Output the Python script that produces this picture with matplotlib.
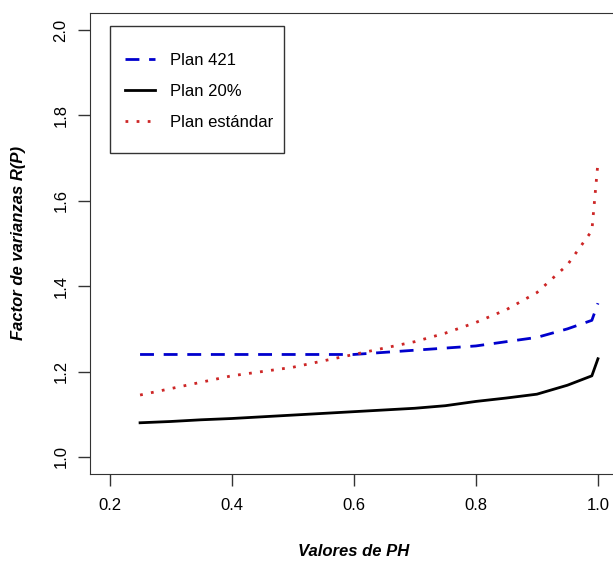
import matplotlib
matplotlib.use("Agg")
import matplotlib.pyplot as plt
from matplotlib.patches import Rectangle

plt.rcParams['font.family'] = ['Liberation Sans', 'DejaVu Sans']

ph = [0.25, 0.30, 0.35, 0.40, 0.45, 0.50, 0.55, 0.60, 0.65, 0.70,
      0.75, 0.80, 0.85, 0.90, 0.95, 0.99, 1.00]
plan_421 = [1.24, 1.24, 1.24, 1.24, 1.24, 1.24, 1.24, 1.24, 1.245, 1.25,
            1.255, 1.26, 1.27, 1.28, 1.30, 1.32, 1.36]
plan_20 = [1.08, 1.083, 1.087, 1.09, 1.094, 1.098, 1.102, 1.106, 1.11, 1.114,
           1.12, 1.13, 1.138, 1.147, 1.168, 1.19, 1.23]
plan_std = [1.145, 1.16, 1.175, 1.19, 1.20, 1.21, 1.225, 1.24, 1.255, 1.27,
            1.29, 1.315, 1.345, 1.385, 1.45, 1.53, 1.69]

fig = plt.figure(figsize=(6.13, 5.63), dpi=100)
# right edge of the box falls just outside the picture, as in the original
ax = fig.add_axes([90 / 613, 89 / 563, 527.5 / 613, 461 / 563])

ax.plot(ph, plan_421, color='#0000CD', lw=2, dashes=(5, 3.5), label='Plan 421')
ax.plot(ph, plan_20, color='black', lw=2, label='Plan 20%')
ax.plot(ph, plan_std, color='#CD2626', lw=2, dashes=(1, 3), label='Plan estándar')

ax.set_xlim(0.168, 1.032)
ax.set_ylim(0.96, 2.04)
ax.set_xticks([0.2, 0.4, 0.6, 0.8, 1.0])
ax.set_yticks([1.0, 1.2, 1.4, 1.6, 1.8, 2.0])
ax.set_xticklabels(['0.2', '0.4', '0.6', '0.8', '1.0'])
ax.set_yticklabels(['1.0', '1.2', '1.4', '1.6', '1.8', '2.0'], rotation=90, va='center')
ax.tick_params(labelsize=12, length=8.5, width=1, color='#333333', pad=7)
ax.tick_params(axis='x', pad=9)
for s in ax.spines.values():
    s.set_color('#333333')

ax.set_xlabel('Valores de PH', fontsize=12, fontweight='bold', style='italic', labelpad=22)
ax.set_ylabel('Factor de varianzas R(P)', fontsize=12, fontweight='bold', style='italic', labelpad=20)

ax.add_patch(Rectangle((0.0379, 0.6963), 0.3299, 0.2755, transform=ax.transAxes,
                       fill=False, edgecolor='#333333', lw=1, zorder=5))
ax.legend(loc='center left', bbox_to_anchor=(0.0664, 0.830), fontsize=12,
          frameon=False, borderpad=0, handlelength=1.8, labelspacing=0.98,
          handletextpad=0.9, borderaxespad=0)

fig.savefig('out.png', dpi=100)
